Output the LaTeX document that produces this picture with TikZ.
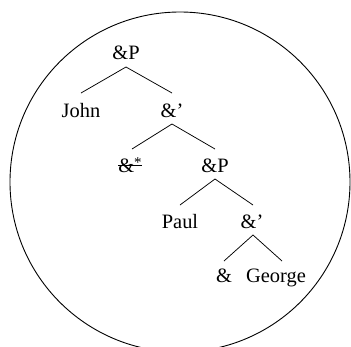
\documentclass[tikz,border=0pt]{standalone}
\usepackage{fontspec}
\setmainfont{Liberation Serif}
\begin{document}
\begin{tikzpicture}[x=1bp,y=-1bp,
  lbl/.style={anchor=base, inner sep=0pt, font=\fontsize{20.5}{24}\selectfont},
  br/.style={line width=0.75bp}]
\useasboundingbox (0,0) rectangle (351,347);
\clip (0,0) rectangle (351,347);
\draw[line width=0.9bp] (180,182) circle (170bp);
% nodes
\node[lbl] (p1) at (126,59) {\&P};
\node[lbl] (john) at (81,117) {John};
\node[lbl] (b1) at (172,117) {\&'};
\node[lbl] (amps) at (130,172) {\&\raisebox{5bp}{\fontsize{15}{15}\selectfont *}};
\node[lbl] (p2) at (215,172) {\&P};
\node[lbl] (paul) at (180,228) {Paul};
\node[lbl] (b2) at (252,228) {\&'};
\node[lbl] (amp) at (224,282) {\&};
\node[lbl] (george) at (276,282) {George};
% strike through
\draw[line width=0.7bp] ([yshift=7bp]amps.base west) -- ([yshift=7bp]amps.base east);
% branches
\draw[br] ([yshift=-8bp]p1.base) -- ([yshift=24bp]john.base);
\draw[br] ([yshift=-8bp]p1.base) -- ([yshift=24bp]b1.base);
\draw[br] ([yshift=-7bp]b1.base) -- ([xshift=2bp,yshift=23bp]amps.base);
\draw[br] ([yshift=-7bp]b1.base) -- ([yshift=23bp]p2.base);
\draw[br] ([yshift=-7bp]p2.base) -- ([yshift=23bp]paul.base);
\draw[br] ([yshift=-7bp]p2.base) -- ([xshift=1bp,yshift=23bp]b2.base);
\draw[br] ([xshift=1bp,yshift=-7bp]b2.base) -- ([yshift=21bp]amp.base);
\draw[br] ([xshift=1bp,yshift=-7bp]b2.base) -- ([xshift=6bp,yshift=21bp]george.base);
\end{tikzpicture}
\end{document}
